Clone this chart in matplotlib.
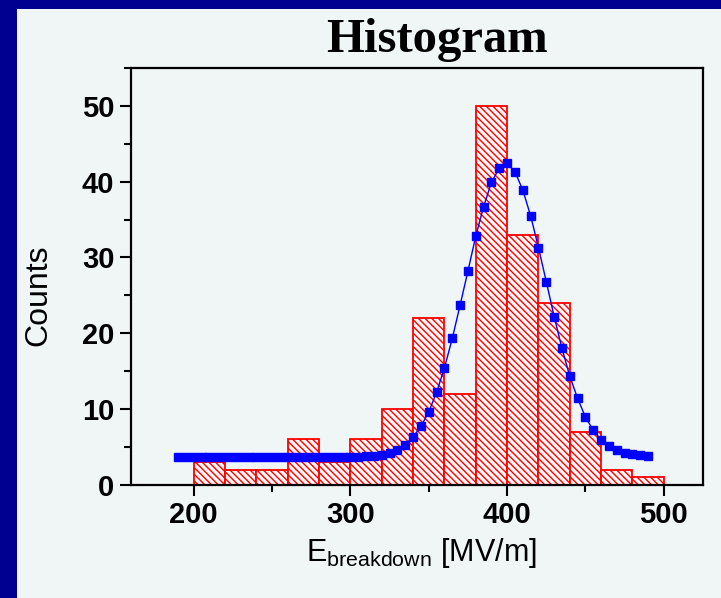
import matplotlib
matplotlib.use('Agg')
import matplotlib.pyplot as plt
from matplotlib.patches import Rectangle
from matplotlib.ticker import MultipleLocator

# histogram bins (left edges, width 20) and counts
bin_left = [200, 220, 240, 260, 280, 300, 320, 340, 360, 380, 400, 420, 440, 460, 480]
counts = [3, 2, 2, 6, 3, 6, 10, 22, 12, 50, 33, 24, 7, 2, 1]
bin_width = 20

# fitted curve
fit_x = list(range(190, 495, 5))
fit_y = [3.7, 3.7, 3.7, 3.7, 3.7, 3.7, 3.7, 3.7, 3.7, 3.7,
         3.7, 3.7, 3.7, 3.7, 3.7, 3.7, 3.7, 3.7, 3.7, 3.7,
         3.7, 3.7, 3.7,
         3.72, 3.76, 3.82, 3.93, 4.13, 4.6, 5.3, 6.3, 7.7, 9.6, 12.2,
         15.4, 19.3, 23.7, 28.2, 32.8, 36.7, 39.9, 41.8, 42.4, 41.3,
         38.9, 35.5, 31.3, 26.8, 22.2, 18.0, 14.3, 11.4, 8.9, 7.2,
         5.9, 5.1, 4.6, 4.2, 4.0, 3.9, 3.8]

plt.rcParams['font.family'] = ['Liberation Sans', 'DejaVu Sans']
plt.rcParams['hatch.linewidth'] = 1.0

fig = plt.figure(figsize=(7.21, 5.98), dpi=100, facecolor='#000090')
# light panel
fig.patches.append(Rectangle((17/721, 0), 1 - 17/721, 1 - 9/598, transform=fig.transFigure,
                             facecolor='#f0f6f6', edgecolor='none', zorder=-10))

ax = fig.add_axes([131/721, 1 - 484.7/598, (703 - 131)/721, (484.7 - 68)/598])
ax.set_facecolor('#f0f6f6')
ax.set_zorder(1)

ax.bar(bin_left, counts, width=bin_width, align='edge', facecolor='#fff8f8',
       edgecolor='red', linewidth=1.3, hatch='\\\\\\\\\\', zorder=2)
ax.plot(fit_x, fit_y, color='#0000ff', linewidth=1.0, marker='s', markersize=6,
        markeredgecolor='#0000ff', markerfacecolor='#0000ff', zorder=3)

ax.set_xlim(160, 525)
ax.set_ylim(0, 55)
ax.xaxis.set_major_locator(MultipleLocator(100))
ax.xaxis.set_minor_locator(MultipleLocator(50))
ax.yaxis.set_major_locator(MultipleLocator(10))
ax.yaxis.set_minor_locator(MultipleLocator(5))
ax.tick_params(which='major', direction='out', length=8, width=1.5, labelsize=21, pad=4)
ax.tick_params(which='minor', direction='out', length=5, width=1.5)
for lab in ax.get_xticklabels() + ax.get_yticklabels():
    lab.set_fontweight('bold')
for sp in ax.spines.values():
    sp.set_linewidth(1.6)

fig.text(437/721, 1 - 40/598, 'Histogram', family='Liberation Serif', fontweight='bold',
         fontsize=35, ha='center', va='center')
fig.text(38/721, 1 - 295/598, 'Counts', fontsize=23, rotation=90,
         ha='center', va='center')
fig.text(421/721, 1 - 553/598, r'E$_{\mathregular{breakdown}}$ [MV/m]', fontsize=22,
         ha='center', va='center')

fig.savefig('out.png', dpi=100, facecolor=fig.get_facecolor())
